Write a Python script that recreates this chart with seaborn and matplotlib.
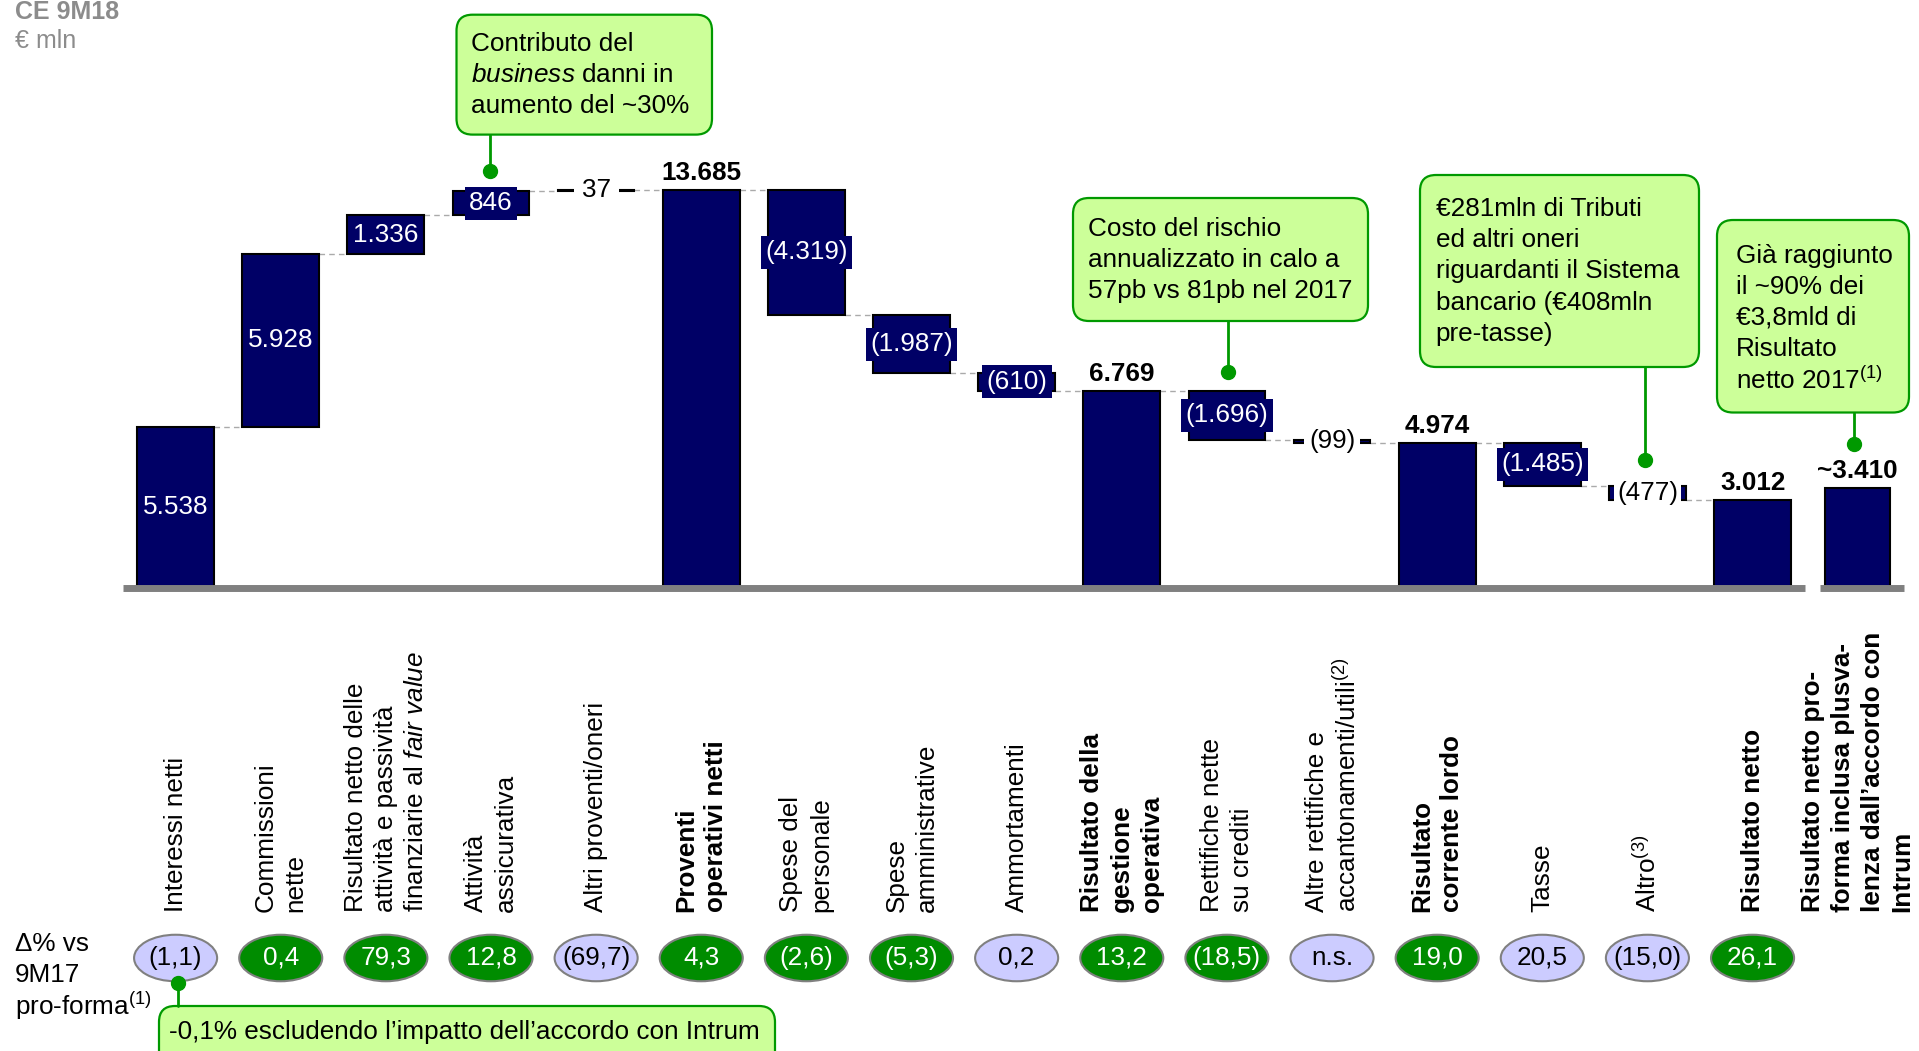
import numpy as np
import pandas as pd
import matplotlib
matplotlib.use("Agg")
import matplotlib.pyplot as plt
import seaborn as sns
from matplotlib.patches import Ellipse, FancyBboxPatch
from matplotlib.transforms import Affine2D
from matplotlib.lines import Line2D

# ---------------- data ----------------
categories = [
    "Interessi netti",
    "Commissioni\nnette",
    "Risultato netto delle\nattività e passività\nfinanziarie al $\\mathit{fair\\ value}$",
    "Attività\nassicurativa",
    "Altri proventi/oneri",
    "Proventi\noperativi netti",
    "Spese del\npersonale",
    "Spese\namministrative",
    "Ammortamenti",
    "Risultato della\ngestione\noperativa",
    "Rettifiche nette\nsu crediti",
    "Altre rettifiche e\naccantonamenti/utili$^{(2)}$",
    "Risultato\ncorrente lordo",
    "Tasse",
    "Altro$^{(3)}$",
    "Risultato netto",
    "Risultato netto pro-\nforma inclusa plusva-\nlenza dall’accordo con\nIntrum",
]
values = [5538, 5928, 1336, 846, 37, 13685, -4319, -1987, -610, 6769,
          -1696, -99, 4974, -1485, -477, 3012, 3410]
kinds = ["start", "delta", "delta", "delta", "delta", "total", "delta", "delta",
         "delta", "total", "delta", "delta", "total", "delta", "delta", "total",
         "proforma"]
value_prefix = [""] * 16 + ["~"]
delta_pct = ["(1,1)", "0,4", "79,3", "12,8", "(69,7)", "4,3", "(2,6)", "(5,3)",
             "0,2", "13,2", "(18,5)", "n.s.", "19,0", "20,5", "(15,0)", "26,1"]
delta_good = [False, True, True, True, False, True, True, True,
              False, True, True, False, True, False, False, True]

# ---------------- styles / layout ----------------
bold_label = [False, False, False, False, False, True, False, False, False, True,
              False, False, True, False, False, True, True]
label_style = ["in", "in", "in", "box", "white", "top", "box", "box", "box", "top",
               "box", "white", "top", "box", "white", "top", "top"]
white_pad = [0.3] * 17
white_pad[11] = 0.18
white_pad[14] = 0.12

NAVY = "#000066"
GREEN = "#009900"
DGREEN = "#008C00"
LAV = "#CCCCFF"
CALL_FILL = "#CCFF99"
GRAY = "#808080"
FS = 18.8

W, H = 1919, 1051
BASE_PX = 587.5           # pixel row of the zero line
K = 397.8 / 13685         # pixels per € mln
X0_PX, STEP_PX = 175.6, 105.13

def Y(py):
    return (BASE_PX - py) / K

sns.set_style("white")
plt.rcParams["font.family"] = ["Liberation Sans", "DejaVu Sans"]
plt.rcParams["mathtext.fontset"] = "custom"
plt.rcParams["mathtext.rm"] = "Liberation Sans"
plt.rcParams["mathtext.it"] = "Liberation Sans:italic"
plt.rcParams["mathtext.bf"] = "Liberation Sans:bold"

fig = plt.figure(figsize=(W / 100, H / 100), dpi=100)
ax = fig.add_axes([0, 0, 1, 1])
pix = Affine2D().scale(1, -1).translate(0, H)

# ---------------- waterfall geometry ----------------
level = 0
bottoms, heights, ends = [], [], []
for v, k in zip(values, kinds):
    if k == "delta":
        b = min(level, level + v)
        level = level + v
    else:
        b = 0
        level = v
    bottoms.append(b)
    heights.append(abs(v))
    ends.append(level)

df = pd.DataFrame({"categoria": categories, "altezza": heights, "base": bottoms})
BW = 0.73
sns.barplot(data=df, x="categoria", y="altezza", order=categories,
            bottom=df["base"].to_numpy(), color=NAVY, saturation=1, width=BW,
            edgecolor="black", linewidth=1.5, errorbar=None, ax=ax, zorder=2)
last = ax.patches[len(categories) - 1]
nw = BW * 53 / 63
last.set_x(16 - nw / 2)
last.set_width(nw)

# connectors
for i in range(15):
    ax.plot([i + BW / 2, i + 1 - BW / 2], [ends[i], ends[i]], color="#AAAAAA",
            lw=1.0, ls=(0, (4, 3)), zorder=1)

# baseline
ax.plot([-0.5, 15.5], [0, 0], color=GRAY, lw=5, solid_capstyle="butt", zorder=3)
ax.plot([15.64, 16.44], [0, 0], color=GRAY, lw=5, solid_capstyle="butt", zorder=3)

# value labels
def fmt(v, pre=""):
    s = f"{abs(v):,}".replace(",", ".")
    return pre + (f"({s})" if v < 0 else s)

for i, (v, b, h, st) in enumerate(zip(values, bottoms, heights, label_style)):
    txt = fmt(v, value_prefix[i])
    mid = b + h / 2
    if st == "in":
        ax.text(i, mid, txt, ha="center", va="center", color="white", fontsize=FS, zorder=5)
    elif st == "box":
        ax.text(i, mid, txt, ha="center", va="center", color="white", fontsize=FS, zorder=5,
                bbox=dict(boxstyle="square,pad=0.17", fc=NAVY, ec="none"))
    elif st == "white":
        ax.text(i, mid, txt, ha="center", va="center", color="black", fontsize=FS, zorder=5,
                bbox=dict(boxstyle=f"square,pad={white_pad[i]}", fc="white", ec="none"))
    else:
        ax.text(i, b + h + 5 / K, txt, ha="center", va="bottom", color="black",
                fontsize=FS, fontweight="bold", zorder=5)

# category labels (rotated)
LS = 30 / STEP_PX
for i, (lab, bold) in enumerate(zip(categories, bold_label)):
    lines = lab.split("\n")
    n = len(lines)
    for j, ln in enumerate(lines):
        ax.text(i + (j - (n - 1) / 2) * LS, Y(912), ln, rotation=90, ha="center",
                va="bottom", fontsize=FS, fontweight="bold" if bold else "normal",
                color="black")

# delta % ellipses
for i, (t, good) in enumerate(zip(delta_pct, delta_good)):
    e = Ellipse((i, Y(958)), width=0.79, height=46.5 / K,
                facecolor=DGREEN if good else LAV, edgecolor=GRAY, lw=1.5, zorder=4)
    ax.add_patch(e)
    ax.text(i, Y(958), t, ha="center", va="center", fontsize=FS,
            color="white" if good else "black", zorder=5)

# title texts
ax.text(15, 19, "CE 9M18", transform=pix, fontsize=18, fontweight="bold",
        color="#8C8C8C", va="baseline", ha="left")
ax.text(15, 48, "€ mln", transform=pix, fontsize=18, color="#8C8C8C",
        va="baseline", ha="left")
for yy, t in zip([944, 975, 1006], ["Δ% vs", "9M17", "pro-forma$^{(1)}$"]):
    ax.text(15, yy, t, transform=pix, fontsize=FS, color="black", va="center", ha="left")

# callouts
callouts = [
    dict(box=(456.5, 14.7, 712, 134.6), tx=471, ty=44,
         lines=["Contributo del", "$\\mathit{business}$ danni in", "aumento del ~30%"],
         px=489.6, py0=134.6, py1=171),
    dict(box=(1073, 198, 1368, 321), tx=1088, ty=229,
         lines=["Costo del rischio", "annualizzato in calo a", "57pb vs 81pb nel 2017"],
         px=1227.6, py0=321, py1=372),
    dict(box=(1420, 175, 1699, 367), tx=1435.6, ty=209,
         lines=["€281mln di Tributi", "ed altri oneri", "riguardanti il Sistema",
                "bancario (€408mln", "pre-tasse)"],
         px=1645, py0=367, py1=460),
    dict(box=(1717, 220, 1909, 412.5), tx=1735.5, ty=255.5,
         lines=["Già raggiunto", "il ~90% dei", "€3,8mld di", "Risultato",
                "netto 2017$^{(1)}$"],
         px=1854, py0=412.5, py1=444),
    dict(box=(159, 1006, 775, 1070), tx=169, ty=1032,
         lines=["-0,1% escludendo l’impatto dell’accordo con Intrum"],
         px=177.5, py0=1006, py1=983),
]
for c in callouts:
    x0, y0, x1, y1 = c["box"]
    p = FancyBboxPatch((x0, y0), x1 - x0, y1 - y0,
                       boxstyle="round,pad=0,rounding_size=16",
                       transform=pix, facecolor=CALL_FILL, edgecolor=GREEN, lw=1.6,
                       zorder=6, clip_on=False)
    ax.add_patch(p)
    for j, ln in enumerate(c["lines"]):
        ax.text(c["tx"], c["ty"] + j * 31.2, ln, transform=pix, fontsize=FS,
                color="black", ha="left", va="center", zorder=7)
    ln2 = Line2D([c["px"], c["px"]], [c["py0"], c["py1"]], transform=pix,
                 color=GREEN, lw=2, zorder=6)
    ax.add_line(ln2)
    ln3 = Line2D([c["px"]], [c["py1"]], transform=pix, marker="o", markersize=10,
                 color=GREEN, zorder=7)
    ax.add_line(ln3)

ax.set_xlim(-X0_PX / STEP_PX, (W - X0_PX) / STEP_PX)
ax.set_ylim(Y(H), Y(0))
ax.axis("off")

fig.savefig("out.png", dpi=100)
